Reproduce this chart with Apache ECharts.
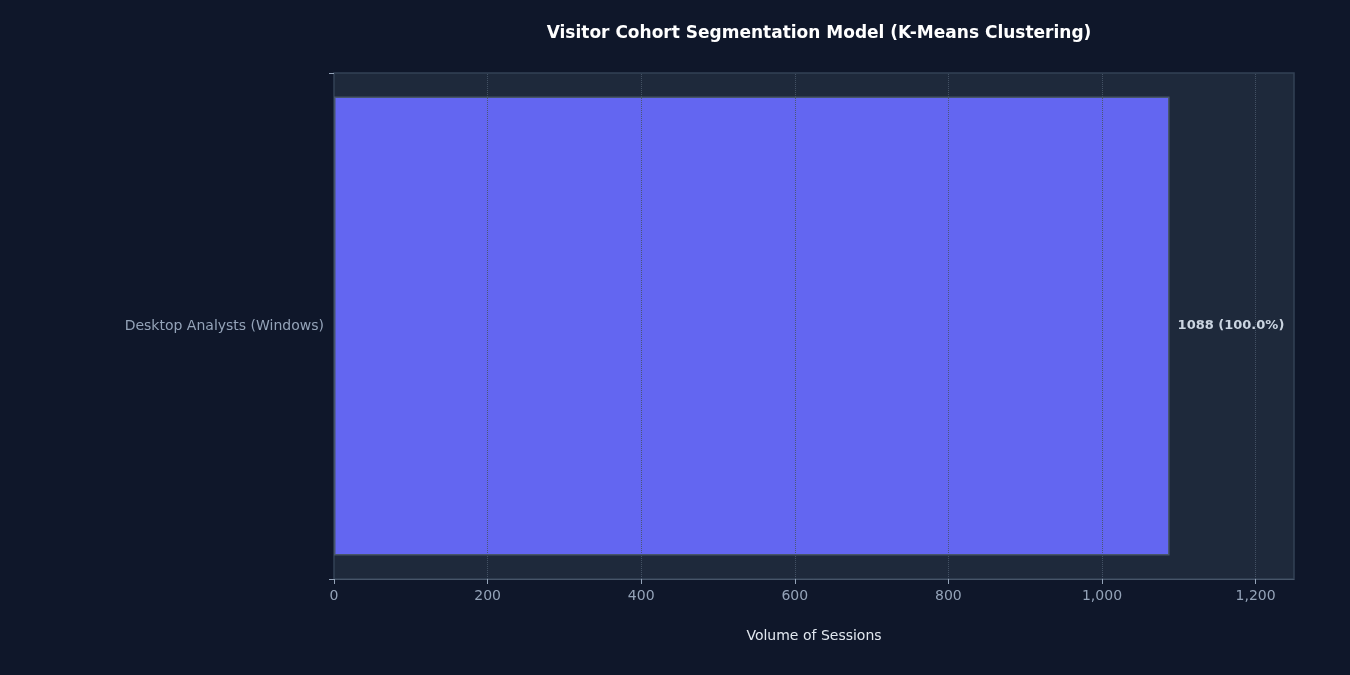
<!DOCTYPE html>
<html><head><meta charset="utf-8">
<script src="https://cdn.jsdelivr.net/npm/echarts@6/dist/echarts.min.js"></script>
<style>html,body{margin:0;background:#0f172a}#c{width:1350px;height:675px}</style>
</head><body><div id="c"></div>
<script>
const categories = ["Desktop Analysts (Windows)"];
const sessions = [1088];
const shares = ["100.0%"];
const gridValues = [200, 400, 600, 800, 1000, 1200];
const F = "DejaVu Sans";
const chart = echarts.init(document.getElementById('c'));
chart.setOption({
  backgroundColor: '#0f172a',
  textStyle: {fontFamily: F},
  title: {text: 'Visitor Cohort Segmentation Model (K-Means Clustering)', left: 814, top: 20, textAlign: 'center',
    textStyle: {color: '#ffffff', fontSize: 17, fontWeight: 'bold', fontFamily: F}},
  grid: {left: 334, right: 56, top: 73, bottom: 96, show: true, backgroundColor: '#1e293b', borderColor: '#334155', borderWidth: 1.5},
  xAxis: {type: 'value', min: 0, max: 1250, interval: 200,
    name: 'Volume of Sessions', nameLocation: 'middle', nameGap: 50,
    nameTextStyle: {color: '#e2e8f0', fontSize: 14, fontFamily: F},
    axisLine: {show: true, lineStyle: {color: '#475569'}},
    axisTick: {show: true, length: 5, lineStyle: {color: '#94a3b8'}},
    axisLabel: {color: '#94a3b8', fontSize: 14, margin: 10, fontFamily: F, showMaxLabel: false},
    splitLine: {show: false}},
  yAxis: {type: 'category', data: categories,
    axisLine: {show: false}, axisTick: {show: true, length: 5, lineStyle: {color: '#94a3b8'}},
    axisLabel: {color: '#94a3b8', fontSize: 14, margin: 10, fontFamily: F}},
  series: [{type: 'bar', data: sessions, barCategoryGap: '9.3%',
    itemStyle: {color: '#6366f1', borderColor: '#475569', borderWidth: 1.5},
    label: {show: true, position: 'right', distance: 8, color: '#cbd5e1', fontWeight: 'bold', fontSize: 13, fontFamily: F,
      formatter: p => p.value + ' (' + shares[p.dataIndex] + ')'},
    markLine: {silent: true, symbol: 'none', label: {show: false},
      lineStyle: {type: 'dotted', color: '#475569', width: 1, opacity: 0.9},
      data: gridValues.map(v => ({xAxis: v}))}
  }]
});
</script></body></html>
